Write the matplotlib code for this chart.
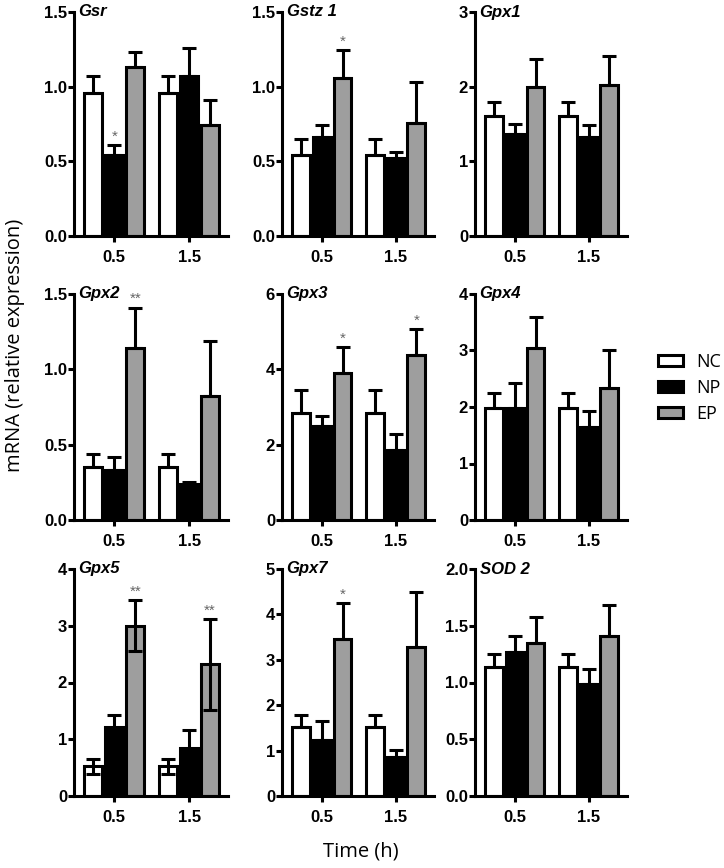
import numpy as np
import matplotlib.pyplot as plt
from matplotlib.patches import Patch

genes = ['Gsr', 'Gstz 1', 'Gpx1', 'Gpx2', 'Gpx3', 'Gpx4', 'Gpx5', 'Gpx7', 'SOD 2']
times = ['0.5', '1.5']
groups = ['NC', 'NP', 'EP']

# mean and upper SEM for each gene, [0.5 h, 1.5 h]
ncMean = [[0.96, 0.96], [0.54, 0.54], [1.61, 1.61], [0.35, 0.35], [2.84, 2.84],
          [1.98, 1.98], [0.52, 0.52], [1.51, 1.51], [1.135, 1.135]]
ncErr = [[0.11, 0.11], [0.11, 0.11], [0.19, 0.19], [0.09, 0.09], [0.60, 0.60],
         [0.27, 0.27], [0.14, 0.14], [0.28, 0.28], [0.115, 0.115]]
npMean = [[0.54, 1.07], [0.66, 0.52], [1.36, 1.32], [0.33, 0.24], [2.49, 1.87],
          [1.98, 1.65], [1.21, 0.85], [1.24, 0.87], [1.265, 0.99]]
npErr = [[0.07, 0.19], [0.08, 0.04], [0.14, 0.17], [0.09, 0.01], [0.27, 0.42],
         [0.44, 0.28], [0.21, 0.31], [0.41, 0.14], [0.145, 0.13]]
epMean = [[1.13, 0.74], [1.06, 0.76], [1.99, 2.02], [1.14, 0.82], [3.91, 4.37],
          [3.04, 2.33], [3.00, 2.32], [3.46, 3.29], [1.35, 1.41]]
epErr = [[0.10, 0.17], [0.185, 0.27], [0.38, 0.39], [0.27, 0.37], [0.69, 0.70],
         [0.55, 0.67], [0.45, 0.80], [0.79, 1.20], [0.23, 0.27]]

yMax = [1.5, 1.5, 3, 1.5, 6, 4, 4, 5, 2.0]
yStep = [0.5, 0.5, 1, 0.5, 2, 1, 1, 1, 0.5]

# significance marks: gene index, time index, group index, text
starGene = [0, 1, 3, 4, 4, 6, 6, 7]
starTime = [0, 0, 0, 0, 1, 0, 1, 0]
starGroup = [1, 2, 2, 2, 2, 2, 2, 2]
starText = ['*', '*', '**', '*', '*', '**', '**', '*']

# genes whose error bars are drawn both ways
twoSided = ['Gpx5']

colors = ['white', 'black', '#9e9e9e']
tickFont = 'Liberation Sans'
labelFont = 'Open Sans'

W, H = 724, 868
fig = plt.figure(figsize=(W / 100.0, H / 100.0), dpi=100)

colLeft = [74, 282, 475]
colWidth = [154, 152, 152]
rowBottom = [236, 520, 796]
rowTop = [12, 294, 569]

spacing = 0.28
width = 0.24
lw = 2.2

for i, gene in enumerate(genes):
    r, c = divmod(i, 3)
    ax = fig.add_axes([colLeft[c] / W, 1 - rowBottom[r] / H,
                       colWidth[c] / W, (rowBottom[r] - rowTop[r]) / H])
    x = np.arange(len(times))
    means = [ncMean[i], npMean[i], epMean[i]]
    errs = [ncErr[i], npErr[i], epErr[i]]
    tops = {}
    for g in range(3):
        xs = x + (g - 1) * spacing
        ax.bar(xs, means[g], width, color=colors[g], edgecolor='black',
               linewidth=lw, zorder=2)
        if gene in twoSided:
            lower = errs[g]
        else:
            lower = [0, 0]
        ax.errorbar(xs, means[g], yerr=[lower, errs[g]], fmt='none',
                    ecolor='black', elinewidth=lw, capsize=5, capthick=lw,
                    zorder=3)
        for t in range(len(times)):
            tops[(t, g)] = (xs[t], means[g][t] + errs[g][t])

    for k in range(len(starGene)):
        if starGene[k] != i:
            continue
        sx, sy = tops[(starTime[k], starGroup[k])]
        ax.annotate(starText[k], (sx, sy), xytext=(0, 1),
                    textcoords='offset points', ha='center', va='bottom',
                    color='#666666', fontsize=11, family=tickFont)

    ax.set_xlim(-0.54, 1.52)
    ax.set_ylim(0, yMax[i])
    ticks = np.arange(0, yMax[i] + 1e-9, yStep[i])
    ax.set_yticks(ticks)
    if yStep[i] < 1:
        ax.set_yticklabels(['%.1f' % v for v in ticks])
    else:
        ax.set_yticklabels(['%d' % v for v in ticks])
    ax.set_xticks(x)
    ax.set_xticklabels(times)
    for lab in ax.get_xticklabels() + ax.get_yticklabels():
        lab.set_family(tickFont)
        lab.set_fontweight('bold')
        lab.set_fontsize(12)
    ax.tick_params(axis='both', width=lw, length=4, pad=1, color='black')
    ax.tick_params(axis='x', pad=6)
    for side in ['top', 'right']:
        ax.spines[side].set_visible(False)
    for side in ['left', 'bottom']:
        ax.spines[side].set_linewidth(lw)
    ax.text(0.03, 1.0, gene, transform=ax.transAxes, ha='left', va='center',
            fontweight='bold', fontstyle='italic', fontsize=12, family=tickFont)

fig.text(15 / W, 1 - 345 / H, 'mRNA (relative expression)', rotation=90,
         ha='center', va='center', fontsize=14.5, family=labelFont)
fig.text(361 / W, 1 - 852 / H, 'Time (h)', ha='center', va='center',
         fontsize=14.5, family=labelFont)

handles = [Patch(facecolor=colors[g], edgecolor='black', linewidth=lw)
           for g in range(3)]
leg = fig.legend(handles, groups, loc='center left',
                 bbox_to_anchor=(658 / W, 1 - 388 / H), frameon=False,
                 borderpad=0, borderaxespad=0, handlelength=1.4,
                 handleheight=0.6, handletextpad=0.7, labelspacing=0.45,
                 prop={'family': labelFont, 'size': 13})

fig.savefig('out.png', dpi=100)
